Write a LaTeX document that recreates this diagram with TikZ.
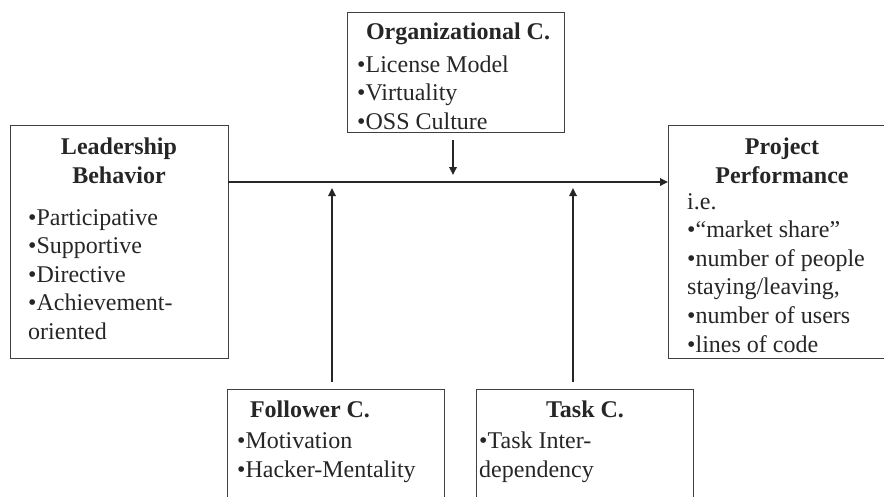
\documentclass[tikz,border=0pt]{standalone}
\usepackage{fontspec}
\setmainfont{Liberation Serif}
\usetikzlibrary{arrows.meta}
\tikzset{%
	box/.style={draw=black!75,line width=1pt,inner sep=0pt,outer sep=0pt,shape=rectangle},
	head/.style={inner sep=0pt,anchor=base,align=center,font=\fontsize{24}{28.6}\selectfont\bfseries,text=black!85},
	items/.style={inner sep=0pt,anchor=base west,align=left,font=\fontsize{24}{28.6}\selectfont,text=black!85},
	link/.style={-{Triangle[length=8pt,width=7.5pt]},line width=1.7pt,draw=black!85},
}
\begin{document}
\begin{tikzpicture}[x=1pt,y=-1pt]
	\useasboundingbox (0,0) rectangle (884,496);
	\clip (0,0) rectangle (884,496);

	%okvirji
	\node[box,minimum width=217pt,minimum height=120pt] (org) at (455.5,72) {};
	\node[box,minimum width=218pt,minimum height=233pt] (lead) at (119,241.5) {};
	\node[box,minimum width=232pt,minimum height=233pt] (proj) at (784,241.5) {};
	\node[box,minimum width=217pt,minimum height=131pt] (foll) at (335.5,454.5) {};
	\node[box,minimum width=217pt,minimum height=131pt] (task) at (584.5,454.5) {};

	%besedila (sidro je na zadnji vrstici)
	\node[head] (orgT) at (458,39) {Organizational C.};
	\node[items] (orgL) at (357,129.2) {•License Model\\•Virtuality\\•OSS Culture};
	\node[head] (leadT) at (119,183) {Leadership\\Behavior};
	\node[items] (leadL) at (28,339.4) {•Participative\\•Supportive\\•Directive\\•Achievement-\\oriented};
	\node[head] (projT) at (782,183) {Project\\Performance};
	\node[items] (projL) at (687,352) {i.e.\\•“market share”\\•number of people\\staying/leaving,\\•number of users\\•lines of code};
	\node[head] (follT) at (310,417) {Follower C.};
	\node[items] (follL) at (237,477.5) {•Motivation\\•Hacker-Mentality};
	\node[head] (taskT) at (585,417) {Task C.};
	\node[items] (taskL) at (479,477.5) {•Task Inter-\\dependency};

	%puščice
	\coordinate (axis) at (453,182);
	\coordinate (fup) at (332,382);
	\coordinate (tup) at (573,382);
	\draw[link] (lead.east |- axis) -- (proj.west |- axis);
	\draw[link,shorten <=8pt,shorten >=7pt] (org.south -| axis) -- (axis);
	\draw[link,shorten >=6pt] (fup) -- (fup |- axis);
	\draw[link,shorten >=6pt] (tup) -- (tup |- axis);
\end{tikzpicture}
\end{document}
